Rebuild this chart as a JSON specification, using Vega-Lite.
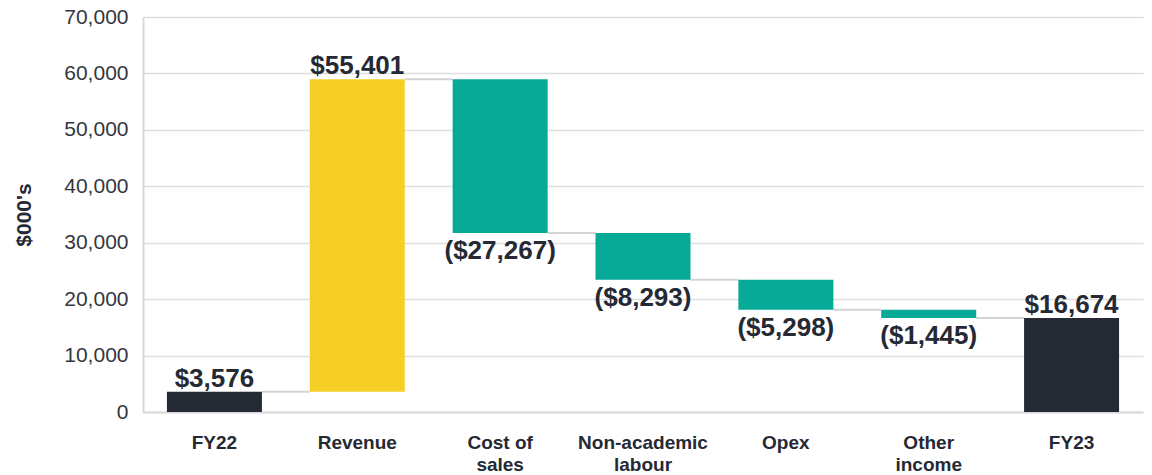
{
  "$schema": "https://vega.github.io/schema/vega-lite/v6.json",
  "autosize": {"type": "none"},
  "padding": {"left": 143, "top": 17, "right": 9, "bottom": 63},
  "width": 1000,
  "height": 395,
  "background": "white",
  "config": {
    "view": {"stroke": null},
    "font": "Arial",
    "axisX": {
      "title": null,
      "labelAngle": 0,
      "labelFont": "Arial",
      "labelFontSize": 19,
      "labelFontWeight": "bold",
      "labelColor": "#252934",
      "labelPadding": 21,
      "labelLineHeight": 22,
      "ticks": false,
      "domain": true,
      "domainColor": "#d9d9d9",
      "domainWidth": 2,
      "grid": false
    }
  },
  "datasets": {
    "bars": [
      {"cat": "FY22", "start": 0, "end": 3576, "kind": "total", "label": "$3,576", "sign": "pos"},
      {"cat": "Revenue", "start": 3576, "end": 58977, "kind": "up", "label": "$55,401", "sign": "pos"},
      {"cat": "Cost of|sales", "start": 58977, "end": 31710, "kind": "down", "label": "($27,267)", "sign": "neg"},
      {"cat": "Non-academic|labour", "start": 31710, "end": 23417, "kind": "down", "label": "($8,293)", "sign": "neg"},
      {"cat": "Opex", "start": 23417, "end": 18119, "kind": "down", "label": "($5,298)", "sign": "neg"},
      {"cat": "Other|income", "start": 18119, "end": 16674, "kind": "down", "label": "($1,445)", "sign": "neg"},
      {"cat": "FY23", "start": 0, "end": 16674, "kind": "total", "label": "$16,674", "sign": "pos"}
    ],
    "links": [
      {"from": "FY22", "to": "Revenue", "level": 3576},
      {"from": "Revenue", "to": "Cost of|sales", "level": 58977},
      {"from": "Cost of|sales", "to": "Non-academic|labour", "level": 31710},
      {"from": "Non-academic|labour", "to": "Opex", "level": 23417},
      {"from": "Opex", "to": "Other|income", "level": 18119},
      {"from": "Other|income", "to": "FY23", "level": 16674}
    ]
  },
  "encoding": {
    "y": {
      "type": "quantitative",
      "scale": {"domain": [0, 70000], "nice": false},
      "axis": {
        "title": "$000's",
        "titleFont": "Arial",
        "titleFontSize": 21,
        "titleFontWeight": "bold",
        "titleColor": "#252934",
        "titlePadding": 29,
        "values": [0, 10000, 20000, 30000, 40000, 50000, 60000, 70000],
        "format": ",d",
        "labelFont": "Arial",
        "labelFontSize": 21,
        "labelColor": "#333740",
        "labelPadding": 15,
        "ticks": false,
        "domain": true,
        "domainColor": "#d9d9d9",
        "domainWidth": 2,
        "grid": true,
        "gridColor": "#dedede",
        "gridWidth": 1.5
      }
    }
  },
  "layer": [
    {
      "data": {"name": "links"},
      "mark": {"type": "rule", "color": "#d4d4d4", "strokeWidth": 2},
      "encoding": {
        "x": {"field": "from", "type": "nominal", "bandPosition": 1,
          "scale": {"domain": ["FY22", "Revenue", "Cost of|sales", "Non-academic|labour", "Opex", "Other|income", "FY23"], "paddingInner": 0.335, "paddingOuter": 0.1675},
          "axis": {"title": null, "labelExpr": "split(datum.value, '|')"}},
        "x2": {"field": "to", "bandPosition": 0},
        "y": {"field": "level", "type": "quantitative"}
      }
    },
    {
      "data": {"name": "bars"},
      "mark": {"type": "bar"},
      "encoding": {
        "x": {
          "field": "cat", "type": "nominal",
          "scale": {"domain": ["FY22", "Revenue", "Cost of|sales", "Non-academic|labour", "Opex", "Other|income", "FY23"], "paddingInner": 0.335, "paddingOuter": 0.1675},
          "axis": {"title": null, "labelExpr": "split(datum.value, '|')"}
        },
        "y": {"field": "start", "type": "quantitative"},
        "y2": {"field": "end"},
        "color": {
          "field": "kind", "type": "nominal",
          "scale": {"domain": ["total", "up", "down"], "range": ["#252934", "#F5CF26", "#07A997"]},
          "legend": null
        }
      }
    },
    {
      "data": {"name": "bars"},
      "transform": [{"filter": "datum.sign == 'pos'"}],
      "mark": {"type": "text", "baseline": "alphabetic", "dy": -5, "font": "Arial", "fontSize": 26, "fontWeight": "bold", "color": "#252934"},
      "encoding": {
        "x": {"field": "cat", "type": "nominal"},
        "y": {"field": "end", "type": "quantitative"},
        "text": {"field": "label"}
      }
    },
    {
      "data": {"name": "bars"},
      "transform": [{"filter": "datum.sign == 'neg'"}],
      "mark": {"type": "text", "baseline": "top", "dy": 5, "font": "Arial", "fontSize": 26, "fontWeight": "bold", "color": "#252934"},
      "encoding": {
        "x": {"field": "cat", "type": "nominal"},
        "y": {"field": "end", "type": "quantitative"},
        "text": {"field": "label"}
      }
    }
  ]
}
